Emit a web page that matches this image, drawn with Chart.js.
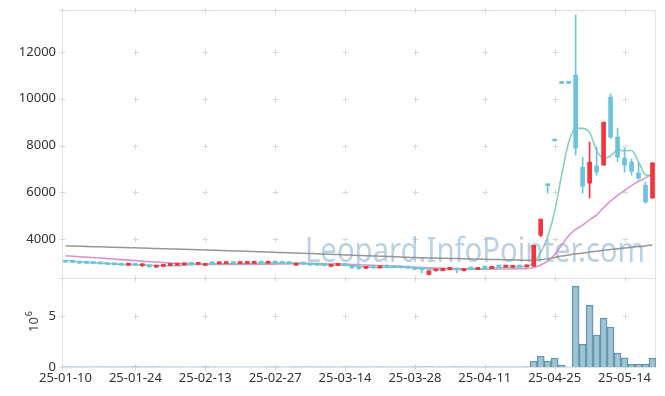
<!DOCTYPE html>
<html lang="ko">
<head>
<meta charset="UTF-8" />
<title>Candle chart</title>
<script src="https://cdn.jsdelivr.net/npm/chart.js"></script>
<style>
  body { margin: 0; background: #fff; }
  #wrap { position: relative; width: 665px; height: 396px; }
  #wrap canvas { position: absolute; left: 0; }
  #priceChart { top: 0; }
  #volumeChart { top: 278px; }
</style>
</head>
<body>
<div id="wrap">
  <canvas id="priceChart" width="665" height="280"></canvas>
  <canvas id="volumeChart" width="665" height="118"></canvas>
</div>

<script>
const dates = [
  '25-01-10','25-01-13','25-01-14','25-01-15','25-01-16','25-01-17','25-01-20','25-01-21','25-01-22','25-01-23',
  '25-01-24','25-01-31','25-02-03','25-02-04','25-02-05','25-02-06','25-02-07','25-02-10','25-02-11','25-02-12',
  '25-02-13','25-02-14','25-02-17','25-02-18','25-02-19','25-02-20','25-02-21','25-02-24','25-02-25','25-02-26',
  '25-02-27','25-02-28','25-03-04','25-03-05','25-03-06','25-03-07','25-03-10','25-03-11','25-03-12','25-03-13',
  '25-03-14','25-03-17','25-03-18','25-03-19','25-03-20','25-03-21','25-03-24','25-03-25','25-03-26','25-03-27',
  '25-03-28','25-03-31','25-04-01','25-04-02','25-04-03','25-04-04','25-04-07','25-04-08','25-04-09','25-04-10',
  '25-04-11','25-04-14','25-04-15','25-04-16','25-04-17','25-04-18','25-04-21','25-04-22','25-04-23','25-04-24',
  '25-04-25','25-04-28','25-04-29','25-04-30','25-05-02','25-05-07','25-05-08','25-05-09','25-05-12','25-05-13',
  '25-05-14','25-05-15','25-05-16','25-05-19','25-05-20'
];

const opens = [
  3050,3010,3000,2975,2965,2950,2945,2910,2900,2880,
  2915,2860,2880,2800,2830,2870,2880,2895,2920,2915,
  2870,2950,2945,2950,2965,2950,2955,2965,2975,2965,
  2985,2975,2960,2880,2960,2930,2885,2880,2830,2870,
  2885,2870,2760,2745,2775,2765,2830,2800,2785,2770,
  2790,2700,2480,2640,2650,2700,2700,2640,2730,2700,
  2765,2740,2830,2800,2790,2820,2810,2835,4160,6305,
  8195,10655,10655,11015,7075,6390,7120,7160,10070,8360,
  7460,7290,6820,6300,5750
];
const highs = [
  3070,3040,3020,3000,2990,2975,2960,2950,2930,2930,
  2940,2920,2900,2850,2890,2900,2910,2930,2940,2950,
  2960,2970,2965,2975,2985,2975,2980,2990,2995,2995,
  3000,2990,2980,2975,2975,2945,2910,2900,2880,2890,
  2900,2880,2790,2790,2800,2850,2840,2815,2800,2790,
  2800,2710,2650,2680,2760,2760,2730,2745,2760,2780,
  2790,2840,2850,2830,2830,2840,2890,3730,4850,6305,
  8195,10655,10655,13585,7500,8150,7930,9000,10200,8745,
  7890,7420,7290,6430,7260
];
const lows = [
  3000,2990,2960,2950,2930,2920,2900,2890,2870,2870,
  2860,2820,2790,2780,2810,2850,2860,2880,2900,2905,
  2860,2930,2925,2935,2940,2935,2940,2950,2955,2955,
  2960,2950,2940,2870,2920,2870,2860,2850,2820,2850,
  2860,2740,2730,2735,2750,2760,2780,2770,2750,2740,
  2690,2550,2460,2620,2640,2680,2560,2630,2700,2690,
  2740,2730,2790,2780,2780,2790,2800,2830,4100,5960,
  8195,10655,10655,7590,5960,5750,6730,7160,8300,7300,
  6860,6730,6560,5530,5750
];
const closes = [
  3010,3000,2970,2965,2950,2940,2910,2900,2880,2920,
  2870,2890,2810,2830,2880,2885,2900,2920,2915,2935,
  2950,2945,2950,2960,2950,2955,2965,2975,2970,2985,
  2975,2960,2950,2965,2930,2885,2880,2870,2870,2880,
  2870,2760,2745,2775,2770,2830,2800,2785,2770,2755,
  2700,2690,2640,2665,2740,2745,2680,2730,2720,2765,
  2760,2830,2800,2810,2820,2800,2870,3730,4850,6280,
  8195,10655,10655,7890,6260,7290,6860,9000,8360,7500,
  7160,6900,6600,5580,7260
];

const volumes = [
  31000,24000,27000,20000,18000,22000,26000,19000,23000,29000,
  30000,24000,36000,26000,23000,17000,16000,19000,14000,15000,
  28000,17000,13000,15000,16000,13000,14000,15000,12000,18000,
  14000,16000,15000,32000,21000,25000,19000,17000,23000,15000,
  16000,39000,27000,20000,18000,34000,22000,18000,17000,19000,
  29000,41000,48000,26000,30000,24000,37000,28000,20000,23000,
  19000,31000,22000,19000,21000,20000,44000,590000,1080000,590000,
  880000,200000,0,7940000,2250000,6050000,3140000,4800000,3920000,1370000,
  910000,290000,290000,290000,880000
];

const ma5 = [
  3080,3055,3025,3000,2979,2965,2947,2933,2916,2910,
  2896,2892,2874,2864,2856,2859,2861,2883,2900,2911,
  2924,2933,2939,2948,2951,2952,2956,2961,2963,2970,
  2974,2973,2968,2967,2956,2938,2922,2906,2887,2877,
  2874,2850,2825,2806,2784,2776,2784,2792,2791,2788,
  2762,2740,2711,2690,2687,2696,2694,2712,2723,2728,
  2731,2761,2775,2793,2804,2812,2820,3006,3414,4106,
  5185,6742,8127,8735,8731,8550,7791,7460,7554,7802,
  7776,7784,7304,6748,6698
];
const ma20 = [
  3280,3262,3244,3225,3205,3185,3162,3140,3118,3096,
  3074,3052,3030,3010,2990,2972,2958,2946,2936,2928,
  2922,2917,2914,2912,2911,2911,2913,2916,2920,2923,
  2927,2931,2938,2945,2947,2947,2946,2944,2941,2939,
  2925,2912,2898,2885,2872,2862,2850,2838,2825,2812,
  2798,2784,2769,2755,2745,2737,2728,2721,2715,2710,
  2706,2710,2714,2718,2723,2726,2732,2780,2885,3060,
  3340,3740,4140,4416,4592,4820,5029,5342,5624,5861,
  6081,6284,6474,6613,6835
];
const ma120 = [
  3705,3698,3690,3681,3673,3666,3657,3648,3639,3630,
  3621,3613,3604,3594,3585,3577,3568,3558,3549,3540,
  3531,3521,3512,3502,3492,3483,3472,3462,3451,3441,
  3431,3421,3410,3399,3389,3378,3367,3356,3344,3333,
  3321,3310,3299,3288,3276,3265,3253,3242,3230,3219,
  3207,3200,3192,3185,3178,3170,3163,3156,3149,3141,
  3134,3127,3120,3112,3105,3098,3091,3092,3110,3150,
  3210,3270,3320,3365,3400,3440,3480,3515,3550,3585,
  3615,3645,3675,3705,3745
];

const priceTicks = [4000, 6000, 8000, 10000, 12000];
const volumeTicks = [0, 5000000];

const UP = '#f0353b', DOWN = '#6cc3db';
const candleColors = closes.map((c, i) => c > opens[i] ? UP : DOWN);
const FONT = { family: '"Noto Sans", sans-serif', size: 13 };

// keep the plot edges where the layout padding puts them
function noPad(s) { s.paddingTop = 0; s.paddingBottom = 0; s.paddingLeft = 0; s.paddingRight = 0; }

// small "+" marks where the ticks cross, plus the light frame
function drawFrame(chart, yValues, yScaleId) {
  const { ctx, chartArea: a } = chart;
  const xs = chart.scales.x, ys = chart.scales[yScaleId];
  ctx.save();
  ctx.strokeStyle = '#e3e3e3';
  ctx.lineWidth = 1;
  ctx.strokeRect(a.left + 0.5, a.top + 0.5, a.right - a.left - 1, a.bottom - a.top);
  ctx.strokeStyle = '#d9d9d9';
  const px = [a.left];
  for (let i = 10; i < dates.length; i += 10) px.push(xs.getPixelForValue(i));
  const py = yValues.map(v => ys.getPixelForValue(v));
  py.push(a.top, a.bottom);
  ctx.beginPath();
  for (const x of px) {
    for (const y of py) {
      const rx = Math.round(x) + 0.5, ry = Math.round(y) + 0.5;
      ctx.moveTo(rx - 3, ry); ctx.lineTo(rx + 3, ry);
      ctx.moveTo(rx, ry - 3); ctx.lineTo(rx, ry + 3);
    }
  }
  ctx.stroke();
  ctx.restore();
}

const priceDecor = {
  id: 'priceDecor',
  beforeDatasetsDraw(chart) {
    drawFrame(chart, priceTicks, 'y');
    const ctx = chart.ctx;
    const text = 'Leopard.InfoPointer.com';
    ctx.save();
    ctx.font = '34px "Noto Sans", sans-serif';
    ctx.fillStyle = 'rgba(140,180,208,0.6)';
    ctx.textBaseline = 'alphabetic';
    const w = ctx.measureText(text).width;
    ctx.translate(305, 262);
    ctx.scale(340 / w, 1);
    ctx.fillText(text, 0, 0);
    ctx.restore();
  }
};

const volumeDecor = {
  id: 'volumeDecor',
  beforeDatasetsDraw(chart) {
    drawFrame(chart, volumeTicks, 'y');
  },
  afterDraw(chart) {
    const ctx = chart.ctx;
    ctx.save();
    ctx.translate(38, 54);
    ctx.rotate(-Math.PI / 2);
    ctx.fillStyle = '#333';
    ctx.textBaseline = 'alphabetic';
    ctx.font = '13px "Noto Sans", sans-serif';
    ctx.fillText('10', 0, 0);
    const w = ctx.measureText('10').width;
    ctx.font = '9px "Noto Sans", sans-serif';
    ctx.fillText('6', w + 1, -6);
    ctx.restore();
  }
};

new Chart(document.getElementById('priceChart'), {
  type: 'bar',
  data: {
    labels: dates,
    datasets: [
      {
        label: 'body',
        data: opens.map((o, i) => [o, closes[i]]),
        backgroundColor: candleColors,
        barThickness: 4,
        minBarLength: 2,
        grouped: false,
        order: 0
      },
      {
        label: 'wick',
        data: lows.map((l, i) => [l, highs[i]]),
        backgroundColor: candleColors,
        barThickness: 1,
        grouped: false,
        order: 1
      },
      {
        type: 'line', label: 'MA5', data: ma5,
        borderColor: 'rgba(120,196,178,0.85)', borderWidth: 1.6,
        pointRadius: 0, cubicInterpolationMode: 'monotone', order: 2
      },
      {
        type: 'line', label: 'MA20', data: ma20,
        borderColor: 'rgba(205,135,195,0.85)', borderWidth: 1.6,
        pointRadius: 0, cubicInterpolationMode: 'monotone', order: 3
      },
      {
        type: 'line', label: 'MA120', data: ma120,
        borderColor: 'rgba(140,140,140,0.9)', borderWidth: 1.5,
        pointRadius: 0, cubicInterpolationMode: 'monotone', order: 4
      }
    ]
  },
  options: {
    responsive: false,
    animation: false,
    devicePixelRatio: 1,
    layout: { padding: { top: 10, right: 9, bottom: 2, left: 0 } },
    plugins: { legend: { display: false }, tooltip: { enabled: false } },
    scales: {
      x: { display: false, offset: true, grid: { display: false }, afterFit: noPad },
      y: {
        min: 2332, max: 13797,
        afterBuildTicks: s => { s.ticks = priceTicks.map(v => ({ value: v })); },
        afterFit: s => { s.width = 62; noPad(s); },
        grid: { display: false, drawTicks: false },
        border: { display: false },
        ticks: { padding: 6, color: '#333', font: FONT, callback: v => String(v) }
      }
    }
  },
  plugins: [priceDecor]
});

new Chart(document.getElementById('volumeChart'), {
  type: 'bar',
  data: {
    labels: dates,
    datasets: [{
      label: 'volume',
      data: volumes,
      backgroundColor: 'rgba(135,182,203,0.8)',
      borderColor: 'rgba(80,130,160,0.9)',
      // sub-pixel bars would otherwise leave a coloured hairline on the baseline
      borderWidth: c => (c.raw < 100000 ? 0 : 1),
      barPercentage: 1,
      categoryPercentage: 1
    }]
  },
  options: {
    responsive: false,
    animation: false,
    devicePixelRatio: 1,
    layout: { padding: { top: 0, right: 9, bottom: 0, left: 0 } },
    plugins: { legend: { display: false }, tooltip: { enabled: false } },
    scales: {
      x: {
        offset: true,
        afterFit: s => { s.height = 29; noPad(s); },
        grid: { display: false, drawTicks: false },
        border: { display: false },
        ticks: {
          autoSkip: false, maxRotation: 0, padding: 3, color: '#333', font: FONT,
          callback: (v, i) => i % 10 === 0 ? dates[i] : ''
        }
      },
      y: {
        min: 0, max: 8730000,
        afterBuildTicks: s => { s.ticks = volumeTicks.map(v => ({ value: v })); },
        afterFit: s => { s.width = 62; noPad(s); },
        grid: { display: false, drawTicks: false },
        border: { display: false },
        ticks: { padding: 6, color: '#333', font: FONT, callback: v => String(v / 1000000) }
      }
    }
  },
  plugins: [volumeDecor]
});
</script>
</body>
</html>
